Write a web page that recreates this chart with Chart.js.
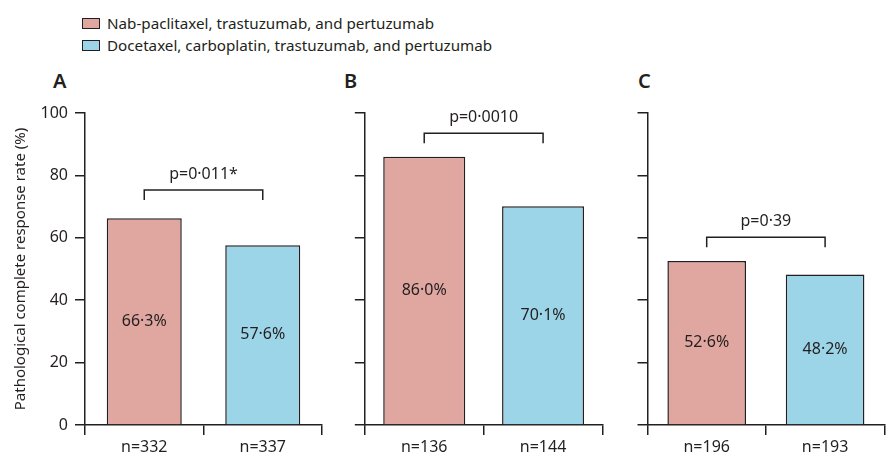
<!DOCTYPE html>
<html>
<head>
<meta charset="utf-8">
<script src="https://cdn.jsdelivr.net/npm/chart.js@4.4.1/dist/chart.umd.min.js"></script>
<style>
  body { margin: 0; background: #fff; }
  #wrap { position: relative; width: 896px; height: 462px; font-family: "Noto Sans", sans-serif; color: #231f20; }
  canvas { position: absolute; top: 0; }
  .key { position: absolute; left: 82px; height: 20px; line-height: 20px; font-size: 15.2px; display: flex; align-items: center; white-space: nowrap; }
  .key i { display: inline-block; width: 16px; height: 9px; border: 1.5px solid #231f20; margin-right: 7px; }
  .letter { position: absolute; top: 70px; font-size: 20px; font-weight: 600; line-height: 22px; }
</style>
</head>
<body>
<div id="wrap">
  <div class="key" style="top:13px"><i style="background:#e0a6a0"></i>Nab-paclitaxel, trastuzumab, and pertuzumab</div>
  <div class="key" style="top:35px"><i style="background:#9dd5e8"></i>Docetaxel, carboplatin, trastuzumab, and pertuzumab</div>
  <div class="letter" style="left:53px">A</div>
  <div class="letter" style="left:344px">B</div>
  <div class="letter" style="left:638px">C</div>
  <canvas id="cA" width="340" height="462" style="left:0px"></canvas>
  <canvas id="cB" width="272" height="462" style="left:340px"></canvas>
  <canvas id="cC" width="276" height="462" style="left:620px"></canvas>
</div>
<script>
// data
const panelIds = ['cA', 'cB', 'cC'];
const nLabels = [['n=332', 'n=337'], ['n=136', 'n=144'], ['n=196', 'n=193']];
const rates = [[66.3, 57.6], [86.0, 70.1], [52.6, 48.2]];
const pValues = ['p=0·011*', 'p=0·0010', 'p=0·39'];
const bracketAt = [75.3, 93.5, 60.2];
const yTicks = [0, 20, 40, 60, 80, 100];

const INK = '#231f20';
const PINK = '#e0a6a0';
const BLUE = '#9dd5e8';

Chart.defaults.font.family = '"Noto Sans", sans-serif';
Chart.defaults.color = INK;

// where each panel's axes sit on the page
const layout = [
  { left: 0, width: 340, axisX: 85, right: 322, bar: 0.633 },
  { left: 340, width: 272, axisX: 364.8, right: 602.5, bar: 0.69 },
  { left: 620, width: 276, axisX: 647.5, right: 884.3, bar: 0.664 }
];

function annotate(i) {
  return {
    id: 'annot' + i,
    afterDatasetsDraw(chart) {
      const ctx = chart.ctx;
      const x = chart.scales.x, y = chart.scales.y;
      const bars = chart.getDatasetMeta(0).data;
      ctx.save();
      ctx.fillStyle = INK;
      ctx.textAlign = 'center';
      ctx.textBaseline = 'middle';
      ctx.font = '16px "Noto Sans", sans-serif';
      bars.forEach((b, j) => {
        ctx.fillText(rates[i][j].toFixed(1).replace('.', '·') + '%', b.x, (b.y + b.base) / 2);
      });
      // significance bracket
      const x0 = x.getPixelForValue(0), x1 = x.getPixelForValue(1);
      const yb = y.getPixelForValue(bracketAt[i]);
      ctx.strokeStyle = INK;
      ctx.lineWidth = 1.5;
      ctx.beginPath();
      ctx.moveTo(x0, yb + 10);
      ctx.lineTo(x0, yb);
      ctx.lineTo(x1, yb);
      ctx.lineTo(x1, yb + 10);
      ctx.stroke();
      ctx.font = '16px "Noto Sans", sans-serif';
      ctx.fillText(pValues[i], (x0 + x1) / 2, yb - 16);
      ctx.restore();
    }
  };
}

panelIds.forEach((id, i) => {
  const p = layout[i];
  new Chart(document.getElementById(id), {
    type: 'bar',
    data: {
      labels: nLabels[i],
      datasets: [{
        data: rates[i],
        backgroundColor: [PINK, BLUE],
        borderColor: INK,
        borderWidth: 1.5,
        barPercentage: p.bar,
        categoryPercentage: 1
      }]
    },
    options: {
      responsive: false,
      animation: false,
      layout: { padding: { top: 113, right: p.left + p.width - p.right, left: 0, bottom: 0 } },
      plugins: { legend: { display: false }, tooltip: { enabled: false } },
      scales: {
        x: {
          grid: { drawOnChartArea: false, drawTicks: true, tickLength: 10, color: INK, lineWidth: 1.5, offset: true },
          border: { color: INK, width: 1.5 },
          ticks: { font: { size: 16 }, padding: 3, color: INK },
          afterFit: s => { s.height = 462 - 425; }
        },
        y: {
          min: 0,
          max: 100,
          afterBuildTicks: s => { s.ticks = yTicks.map(v => ({ value: v })); },
          grid: { drawOnChartArea: false, drawTicks: true, tickLength: 10, color: INK, lineWidth: 1.5 },
          border: { color: INK, width: 1.5 },
          ticks: { font: { size: 16 }, padding: 7, color: INK, callback: v => (i === 0 ? v : '') },
          title: {
            display: i === 0,
            text: 'Pathological complete response rate (%)',
            font: { size: 15 },
            color: INK,
            padding: { top: 12, bottom: 0 }
          },
          afterFit: s => { s.width = p.axisX - p.left; }
        }
      }
    },
    plugins: [annotate(i)]
  });
});
</script>
</body>
</html>
